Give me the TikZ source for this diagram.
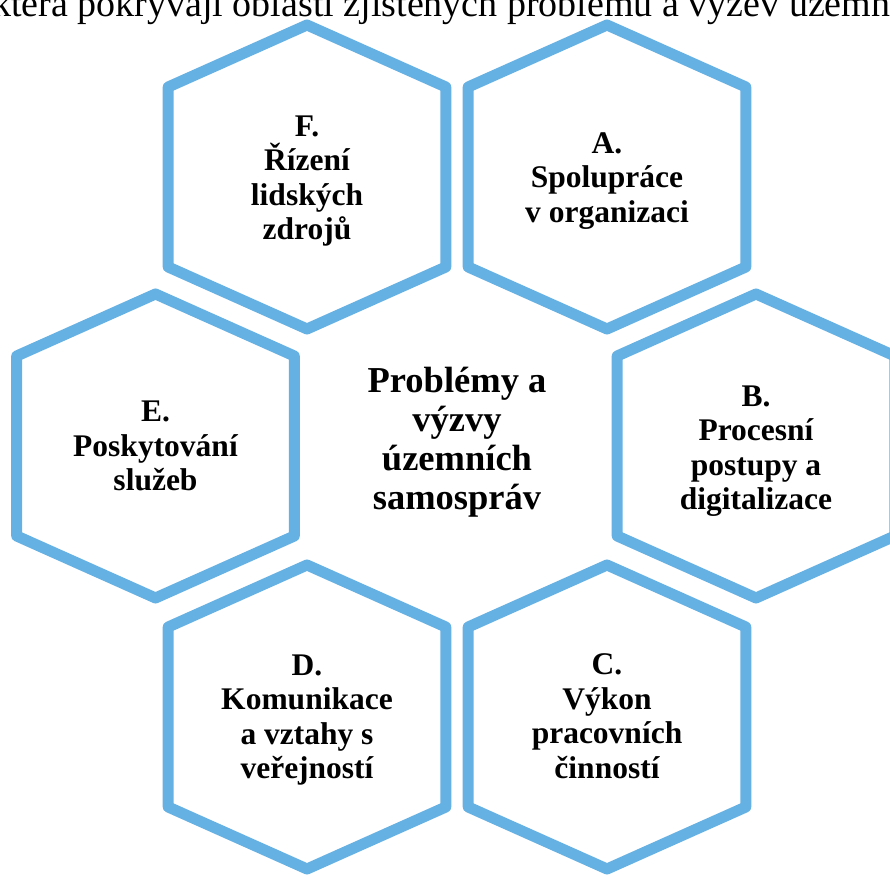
\documentclass[tikz,border=0pt]{standalone}
\usepackage{fontspec}
\setmainfont{Liberation Serif}
\definecolor{hexblue}{RGB}{101,177,228}

\begin{document}
\begin{tikzpicture}[x=1pt, y=1pt, every node/.style={text=black}]
  \useasboundingbox (0,0) rectangle (890,874);
  \clip (0,0) rectangle (890,874);
  \tikzset{cell/.style={draw=hexblue, line width=11pt, line join=round},
           area/.style={font=\bfseries\fontsize{31.5}{34.5}\selectfont,
                        align=center, inner sep=0pt}}
  % caption line of the page, cut by the top edge
  \node[anchor=base west, inner sep=0pt, font=\fontsize{38}{44}\selectfont]
    (caption) at (-8,857) {která pokrývají oblasti zjištěných problémů a výzev územních};

  % six cells round the empty middle one
  \foreach \cx/\cy in {307/697, 607/697, 155.5/428, 756/428, 307/157, 607/157}
    \draw[cell] (\cx,\cy) ++(0,152) -- ++(138.8,-62) -- ++(0,-180)
      -- ++(-138.8,-62) -- ++(-138.8,62) -- ++(0,180) -- cycle;

  \node[font=\bfseries\fontsize{36.5}{39}\selectfont, align=center, inner sep=0pt]
    (core) at (457,432) {Problémy a\\výzvy\\územních\\samospráv};
  \node[area] (areaF) at (307,693) {F.\\Řízení\\lidských\\zdrojů};
  \node[area] (areaA) at (607,693) {A.\\Spolupráce\\v organizaci};
  \node[area] (areaE) at (155.5,428) {E.\\Poskytování\\služeb};
  \node[area] (areaB) at (756,423) {B.\\Procesní\\postupy a\\digitalizace};
  \node[area] (areaD) at (307,154) {D.\\Komunikace\\a vztahy s\\veřejností};
  \node[area] (areaC) at (607,158) {C.\\Výkon\\pracovních\\činností};
\end{tikzpicture}
\end{document}
